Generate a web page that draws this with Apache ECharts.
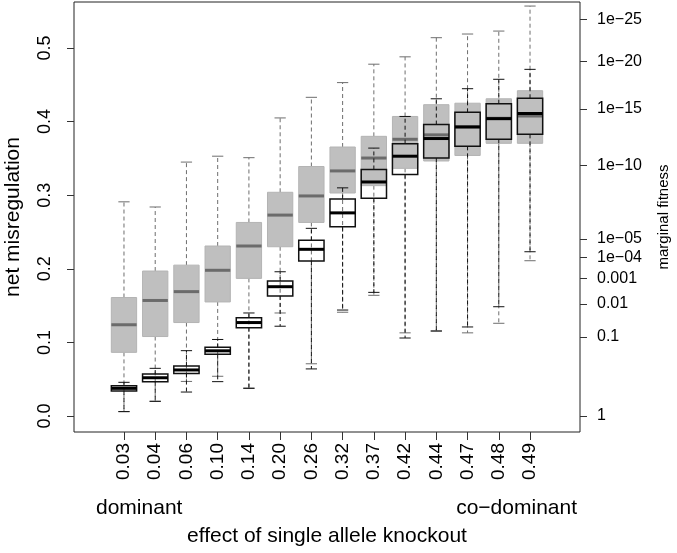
<!DOCTYPE html>
<html>
<head>
<meta charset="utf-8">
<script src="https://cdn.jsdelivr.net/npm/echarts@6/dist/echarts.min.js"></script>
<style>
  html, body { margin: 0; padding: 0; background: #fff; }
  #chart { width: 677px; height: 553px; }
</style>
</head>
<body>
<div id="chart"></div>
<script>
// effect of single allele knockout (categories)
var categories = ['0.03', '0.04', '0.06', '0.10', '0.14', '0.20', '0.26', '0.32', '0.37', '0.42', '0.44', '0.47', '0.48', '0.49'];

// grey boxes: [low whisker, q1, median, q3, high whisker]
var greyBoxes = [
    [0.006, 0.0865, 0.124, 0.161, 0.291],
    [0.020, 0.108, 0.157, 0.197, 0.284],
    [0.047, 0.127, 0.169, 0.205, 0.345],
    [0.054, 0.155, 0.198, 0.231, 0.353],
    [0.038, 0.187, 0.231, 0.263, 0.351],
    [0.140, 0.230, 0.273, 0.304, 0.405],
    [0.071, 0.263, 0.299, 0.339, 0.433],
    [0.141, 0.303, 0.333, 0.3655, 0.453],
    [0.164, 0.313, 0.3505, 0.380, 0.478],
    [0.113, 0.3365, 0.376, 0.407, 0.488],
    [0.1155, 0.3465, 0.382, 0.423, 0.514],
    [0.113, 0.354, 0.393, 0.425, 0.519],
    [0.126, 0.3705, 0.4045, 0.431, 0.523],
    [0.211, 0.3705, 0.4076, 0.442, 0.557]
];

// white boxes: [low whisker, q1, median, q3, high whisker]
var whiteBoxes = [
    [0.006, 0.034, 0.0376, 0.041, 0.0458],
    [0.020, 0.0465, 0.052, 0.0571, 0.0648],
    [0.0326, 0.0577, 0.0626, 0.0679, 0.0888],
    [0.0467, 0.0838, 0.0886, 0.0933, 0.104],
    [0.0376, 0.1199, 0.127, 0.1336, 0.140],
    [0.122, 0.163, 0.1757, 0.1834, 0.196],
    [0.064, 0.2106, 0.2265, 0.2387, 0.255],
    [0.144, 0.257, 0.276, 0.295, 0.310],
    [0.168, 0.296, 0.318, 0.335, 0.364],
    [0.106, 0.328, 0.353, 0.370, 0.407],
    [0.1155, 0.3505, 0.377, 0.396, 0.431],
    [0.121, 0.3664, 0.3927, 0.4126, 0.4447],
    [0.1485, 0.376, 0.404, 0.4243, 0.4575],
    [0.2232, 0.3827, 0.411, 0.4317, 0.471]
];

// left axis ticks
var misregTicks = [0, 0.1, 0.2, 0.3, 0.4, 0.5];

// right axis: marginal fitness = 10^-e, drawn at sqrt(e)
var fitnessExps = [0, 1, 2, 3, 4, 5, 10, 15, 20, 25];
var fitnessLabels = ['1', '0.1', '0.01', '0.001', '1e\u221204', '1e\u221205', '1e\u221210', '1e\u221215', '1e\u221220', '1e\u221225'];
var fitnessUnit = 0.1077; // net misregulation per sqrt(-log10 fitness)

var yMin = -0.0217, yMax = 0.5625;
var font = "'Liberation Sans', Arial, Helvetica, sans-serif";

function toRows(boxes) {
    return boxes.map(function (b, i) { return [i + 1].concat(b); });
}

function boxRender(st) {
    return function (params, api) {
        var x = api.value(0);
        var pLow = api.coord([x, api.value(1)]);
        var pQ1 = api.coord([x, api.value(2)]);
        var pMed = api.coord([x, api.value(3)]);
        var pQ3 = api.coord([x, api.value(4)]);
        var pHigh = api.coord([x, api.value(5)]);
        var hw = api.size([0.81, 0])[0] / 2;
        var cw = api.size([0.36, 0])[0] / 2;
        var cx = pMed[0];
        var wh = { stroke: st.whisker, lineWidth: 1, lineDash: [4, 3] };
        var cap = { stroke: st.whisker, lineWidth: 1 };
        return {
            type: 'group',
            children: [
                { type: 'line', shape: { x1: cx, y1: pQ3[1], x2: cx, y2: pHigh[1] }, style: wh },
                { type: 'line', shape: { x1: cx, y1: pQ1[1], x2: cx, y2: pLow[1] }, style: wh },
                { type: 'line', shape: { x1: cx - cw, y1: pHigh[1], x2: cx + cw, y2: pHigh[1] }, style: cap },
                { type: 'line', shape: { x1: cx - cw, y1: pLow[1], x2: cx + cw, y2: pLow[1] }, style: cap },
                { type: 'rect', shape: { x: cx - hw, y: pQ3[1], width: hw * 2, height: pQ1[1] - pQ3[1] },
                  style: { fill: st.fill, stroke: st.border, lineWidth: st.borderWidth } },
                { type: 'line', shape: { x1: cx - hw, y1: pMed[1], x2: cx + hw, y2: pMed[1] },
                  style: { stroke: st.median, lineWidth: 3 } }
            ]
        };
    };
}

var chart = echarts.init(document.getElementById('chart'));
var option = {
    animation: false,
    grid: { left: 74, right: 97, top: 2, bottom: 121, show: true, borderColor: '#222', borderWidth: 1, outerBoundsMode: 'none', containLabel: false },
    xAxis: {
        type: 'value',
        min: -0.6,
        max: 15.6,
        name: 'effect of single allele knockout',
        nameLocation: 'middle',
        nameGap: 94,
        nameTextStyle: { fontFamily: font, fontSize: 21, color: '#000' },
        splitLine: { show: false },
        axisLine: { show: false, onZero: false },
        axisTick: { show: true, length: 8, lineStyle: { color: '#333' }, customValues: categories.map(function (c, i) { return i + 1; }) },
        axisLabel: {
            rotate: 90,
            margin: 11,
            fontFamily: font,
            fontSize: 19,
            color: '#000',
            customValues: categories.map(function (c, i) { return i + 1; }),
            formatter: function (v) { return categories[Math.round(v) - 1]; }
        }
    },
    yAxis: [
        {
            type: 'value',
            min: yMin,
            max: yMax,
            name: 'net misregulation',
            nameLocation: 'middle',
            nameRotate: 90,
            nameGap: 50,
            nameTextStyle: { fontFamily: font, fontSize: 21, color: '#000' },
            splitLine: { show: false },
            axisLine: { show: false, onZero: false },
            axisTick: { show: true, length: 7, lineStyle: { color: '#333' }, customValues: misregTicks },
            axisLabel: {
                rotate: 90,
                margin: 20,
                fontFamily: font,
                fontSize: 18,
                color: '#000',
                customValues: misregTicks,
                formatter: function (v) { return v.toFixed(1); }
            }
        },
        {
            type: 'value',
            position: 'right',
            min: yMin / fitnessUnit,
            max: yMax / fitnessUnit,
            name: 'marginal fitness',
            nameLocation: 'middle',
            nameRotate: 90,
            nameGap: 76,
            nameTextStyle: { fontFamily: font, fontSize: 15, color: '#000' },
            splitLine: { show: false },
            axisLine: { show: false, onZero: false },
            axisTick: { show: true, length: 7, lineStyle: { color: '#333' }, customValues: fitnessExps.map(Math.sqrt) },
            axisLabel: {
                margin: 17,
                fontFamily: font,
                fontSize: 16,
                color: '#000',
                customValues: fitnessExps.map(Math.sqrt),
                formatter: function (v) {
                    var i = fitnessExps.findIndex(function (e) { return Math.abs(Math.sqrt(e) - v) < 1e-6; });
                    return i >= 0 ? fitnessLabels[i] : '';
                }
            }
        }
    ],
    graphic: [
        { type: 'text', left: 96, top: 498, style: { text: 'dominant', font: '21px ' + font, fill: '#000' } },
        { type: 'text', right: 100, top: 498, style: { text: 'co\u2212dominant', font: '21px ' + font, fill: '#000' } }
    ],
    series: [
        {
            name: 'grey',
            type: 'custom',
            renderItem: boxRender({ fill: '#bfbfbf', border: '#b4b4b4', borderWidth: 1, median: '#6b6b6b', whisker: '#6e6e6e' }),
            encode: { x: 0, y: [1, 2, 3, 4, 5] },
            data: toRows(greyBoxes)
        },
        {
            name: 'white',
            type: 'custom',
            renderItem: boxRender({ fill: 'rgba(0,0,0,0)', border: '#111', borderWidth: 1.5, median: '#000', whisker: '#111' }),
            encode: { x: 0, y: [1, 2, 3, 4, 5] },
            data: toRows(whiteBoxes)
        }
    ]
};
chart.setOption(option);
</script>
</body>
</html>
